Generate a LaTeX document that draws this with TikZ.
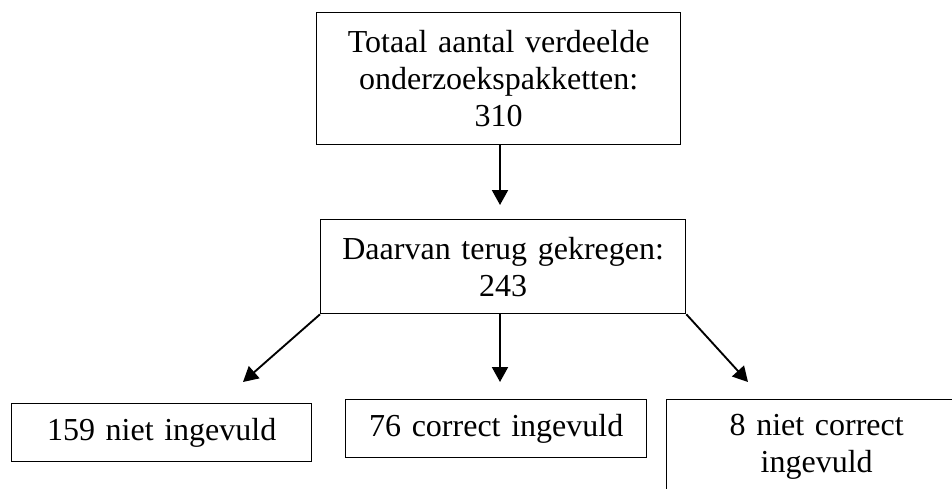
\documentclass[tikz,border=0pt]{standalone}
\usepackage{fontspec}
\setmainfont{Liberation Serif}
\usetikzlibrary{arrows.meta}

\tikzset{
  blok/.style={draw, line width=0.5pt, inner sep=0pt, align=center, anchor=north west},
  pijl/.style={->, line width=0.7pt}
}

\begin{document}
\begin{tikzpicture}[>={Triangle[length=5.6pt,width=6pt]}, x=0.375pt, y=-0.375pt]
\fontsize{12}{13.8}\selectfont
\useasboundingbox (0,0) rectangle (952,489);
\clip (0,0) rectangle (952,489);
%\draw[help lines] (0,0) grid (952,489);
%==================== Totaal ==================
\node[blok, text width=136.5pt, minimum height=49.5pt] (totaal) at (316,12)
  {Totaal aantal verdeelde\\onderzoekspakketten:\\310};
%==================== Terug gekregen ==================
\node[blok, text width=136.9pt, minimum height=35.25pt] (terug) at (320,219)
  {Daarvan terug gekregen:\\243};
%==================== Uitkomsten ==================
\node[blok, text width=112.5pt, minimum height=21.75pt] (niet) at (11,403)
  {159 niet ingevuld};
\node[blok, text width=112.9pt, minimum height=21.75pt] (correct) at (345,399)
  {76 correct ingevuld};
\node[blok, text width=112.5pt, minimum height=35.25pt] (fout) at (666,399)
  {8 niet correct\\ingevuld};
%=================== Frecce =================================
\coordinate (tipM) at (500,205);
\coordinate (tipL) at (243,382);
\coordinate (tipC) at (500,382);
\coordinate (tipR) at (748,382);
\draw[pijl] (totaal.south -| tipM) -- (tipM);
\draw[pijl] (terug.south west) -- (tipL);
\draw[pijl] (terug.south -| tipC) -- (tipC);
\draw[pijl] (terug.south east) -- (tipR);
\end{tikzpicture}
\end{document}
